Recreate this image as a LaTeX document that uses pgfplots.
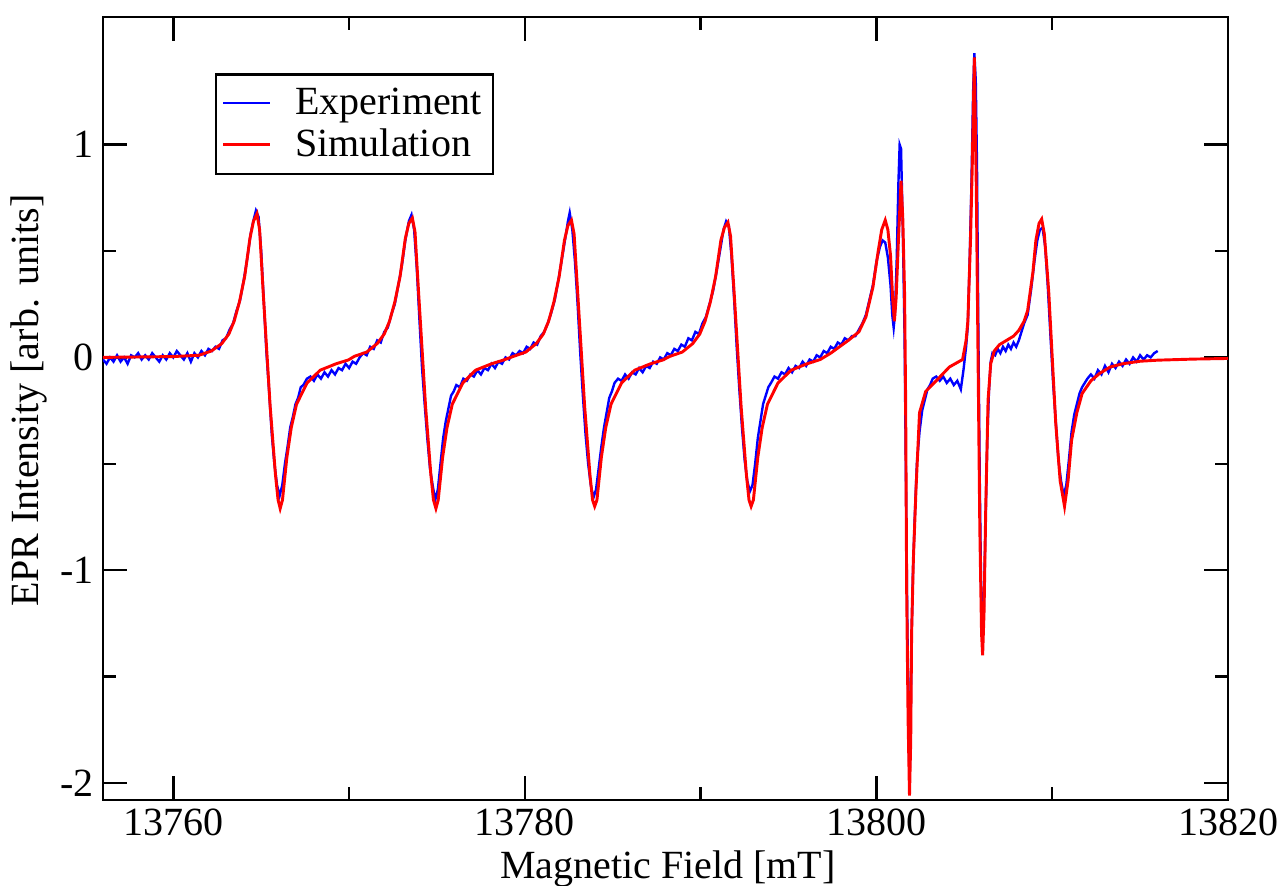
\documentclass[border=0pt]{standalone}
\usepackage{fontspec}
\setmainfont{Liberation Serif}
\usepackage{pgfplots}
\pgfplotsset{compat=1.18}

\newcommand{\lbl}{\fontsize{15}{18}\selectfont}

\begin{document}
\begin{tikzpicture}
\begin{axis}[
    name=ax,
    scale only axis,
    width=421.9pt, height=293.6pt,
    xmin=13756, xmax=13820,
    ymin=-2.08, ymax=1.6,
    scaled x ticks=false,
    xtick={13760,13780,13800,13820},
    xticklabels={13760,13780,13800,13820},
    ytick={-2,-1,0,1},
    yticklabels={-2,-1,0,1},
    minor x tick num=1,
    minor y tick num=1,
    tick align=inside,
    tick pos=both,
    major tick length=9pt,
    minor tick length=4.9pt,
    every tick/.style={black, line width=0.9pt},
    axis line style={line width=0.9pt},
    tick label style={font=\lbl},
    label style={font=\lbl},
    xlabel={Magnetic Field [mT]},
    ylabel={EPR Intensity [arb. units]},
    xlabel style={at={(axis description cs:0.502,-0.1009)}, anchor=base},
    ylabel style={at={(axis description cs:-0.0658,0.51)}, anchor=center},
    legend style={at={(axis description cs:0.0996,0.928)}, anchor=north west,
        draw=black, line width=0.9pt, font=\lbl,
        inner xsep=2pt, inner ysep=3pt, row sep=0pt,
        nodes={inner xsep=2pt},
        /tikz/every odd column/.style={column sep=7pt},
        cells={anchor=west}},
    legend image code/.code={\draw[#1] (0pt,0pt) -- (17.6pt,0pt);},
]
% Experiment
\addplot[color=blue, line width=0.9pt] coordinates {
(13756.0,-0.01)(13756.2,-0.03)(13756.4,0.00)(13756.6,-0.02)(13756.8,0.01)(13757.0,-0.02)
(13757.2,0.00)(13757.4,-0.03)(13757.6,0.01)(13757.8,0.00)(13758.0,0.02)(13758.2,-0.01)
(13758.4,0.01)(13758.6,-0.01)(13758.8,0.02)(13759.0,0.00)(13759.2,-0.02)(13759.4,0.01)
(13759.6,-0.01)(13759.8,0.02)(13760.0,0.00)(13760.2,0.03)(13760.4,0.01)(13760.6,-0.01)
(13760.8,0.02)(13761.0,-0.02)(13761.2,0.02)(13761.4,0.00)(13761.6,0.03)(13761.8,0.01)
(13762.0,0.04)(13762.2,0.03)(13762.4,0.05)(13762.6,0.04)(13762.8,0.08)(13763.0,0.09)
(13763.2,0.13)(13763.4,0.16)(13763.6,0.22)(13763.8,0.27)(13764.0,0.36)(13764.2,0.46)
(13764.4,0.58)(13764.55,0.64)(13764.7,0.69)(13764.85,0.66)(13765.0,0.50)(13765.15,0.26)
(13765.3,0.02)(13765.45,-0.16)(13765.6,-0.36)(13765.75,-0.50)(13765.9,-0.60)(13766.05,-0.65)
(13766.2,-0.60)(13766.35,-0.50)(13766.5,-0.42)(13766.65,-0.33)(13766.8,-0.28)(13766.95,-0.22)
(13767.1,-0.19)(13767.25,-0.14)(13767.4,-0.13)(13767.6,-0.10)(13767.8,-0.09)(13768.0,-0.11)
(13768.2,-0.08)(13768.4,-0.10)(13768.6,-0.07)(13768.8,-0.09)(13769.0,-0.06)(13769.2,-0.08)
(13769.4,-0.05)(13769.6,-0.06)(13769.8,-0.03)(13770.0,-0.05)(13770.2,-0.02)(13770.4,-0.03)
(13770.6,0.00)(13770.8,0.02)(13771.0,0.01)(13771.2,0.05)(13771.4,0.04)(13771.6,0.08)
(13771.8,0.07)(13772.0,0.12)(13772.2,0.14)(13772.4,0.20)(13772.6,0.25)(13772.8,0.34)
(13773.0,0.43)(13773.2,0.55)(13773.4,0.64)(13773.55,0.67)(13773.7,0.60)(13773.85,0.42)
(13774.0,0.18)(13774.15,-0.05)(13774.3,-0.22)(13774.45,-0.38)(13774.6,-0.52)(13774.75,-0.60)
(13774.9,-0.67)(13775.05,-0.62)(13775.2,-0.50)(13775.35,-0.38)(13775.5,-0.30)(13775.65,-0.24)
(13775.8,-0.18)(13775.95,-0.16)(13776.1,-0.13)(13776.3,-0.14)(13776.5,-0.10)(13776.7,-0.11)
(13776.9,-0.08)(13777.1,-0.09)(13777.3,-0.06)(13777.5,-0.08)(13777.7,-0.05)(13777.9,-0.06)
(13778.1,-0.03)(13778.3,-0.05)(13778.5,-0.02)(13778.7,-0.03)(13778.9,0.00)(13779.1,-0.01)
(13779.3,0.02)(13779.5,0.01)(13779.7,0.03)(13779.9,0.02)(13780.1,0.05)(13780.3,0.04)
(13780.5,0.07)(13780.7,0.06)(13780.9,0.10)(13781.1,0.12)(13781.3,0.16)(13781.5,0.21)
(13781.7,0.27)(13781.9,0.36)(13782.1,0.46)(13782.3,0.56)(13782.45,0.64)(13782.55,0.68)
(13782.7,0.60)(13782.85,0.45)(13783.0,0.25)(13783.15,0.02)(13783.3,-0.18)(13783.45,-0.36)
(13783.6,-0.50)(13783.75,-0.60)(13783.9,-0.66)(13784.05,-0.62)(13784.2,-0.52)(13784.35,-0.42)
(13784.5,-0.33)(13784.65,-0.26)(13784.8,-0.19)(13784.95,-0.16)(13785.1,-0.12)(13785.3,-0.10)
(13785.5,-0.11)(13785.7,-0.08)(13785.9,-0.10)(13786.1,-0.07)(13786.3,-0.08)(13786.5,-0.05)
(13786.7,-0.07)(13786.9,-0.04)(13787.1,-0.05)(13787.3,-0.02)(13787.5,-0.03)(13787.7,0.00)
(13787.9,-0.01)(13788.1,0.02)(13788.3,0.01)(13788.5,0.04)(13788.7,0.03)(13788.9,0.06)
(13789.1,0.05)(13789.3,0.09)(13789.5,0.08)(13789.7,0.12)(13789.9,0.11)(13790.1,0.16)
(13790.3,0.19)(13790.5,0.25)(13790.7,0.31)(13790.9,0.40)(13791.1,0.50)(13791.3,0.60)
(13791.45,0.64)(13791.6,0.62)(13791.75,0.48)(13791.9,0.28)(13792.05,0.05)(13792.2,-0.15)
(13792.35,-0.33)(13792.5,-0.48)(13792.65,-0.58)(13792.8,-0.63)(13792.95,-0.60)(13793.1,-0.50)
(13793.25,-0.38)(13793.4,-0.30)(13793.55,-0.22)(13793.7,-0.18)(13793.85,-0.14)(13794.0,-0.12)
(13794.2,-0.09)(13794.4,-0.10)(13794.6,-0.07)(13794.8,-0.08)(13795.0,-0.05)(13795.2,-0.07)
(13795.4,-0.04)(13795.6,-0.05)(13795.8,-0.02)(13796.0,-0.04)(13796.2,-0.01)(13796.4,-0.02)
(13796.6,0.01)(13796.8,0.00)(13797.0,0.03)(13797.2,0.02)(13797.4,0.05)(13797.6,0.04)
(13797.8,0.07)(13798.0,0.06)(13798.2,0.09)(13798.4,0.08)(13798.6,0.10)(13798.8,0.10)
(13799.0,0.13)(13799.2,0.16)(13799.4,0.20)(13799.6,0.27)(13799.8,0.34)(13800.0,0.45)
(13800.2,0.52)(13800.35,0.55)(13800.5,0.54)(13800.65,0.47)(13800.8,0.34)(13800.9,0.20)
(13800.98,0.14)(13801.05,0.20)(13801.15,0.45)(13801.25,0.82)(13801.32,1.00)(13801.4,0.98)
(13801.5,0.60)(13801.6,0.10)(13801.68,-0.60)(13801.75,-1.20)(13801.82,-1.65)(13801.88,-2.00)
(13801.94,-1.75)(13802.0,-1.30)(13802.08,-1.00)(13802.18,-0.75)(13802.3,-0.50)(13802.45,-0.35)
(13802.6,-0.25)(13802.75,-0.20)(13802.9,-0.15)(13803.05,-0.13)(13803.2,-0.10)(13803.4,-0.09)
(13803.6,-0.11)(13803.8,-0.09)(13804.0,-0.12)(13804.2,-0.10)(13804.4,-0.13)(13804.6,-0.11)
(13804.8,-0.15)(13804.95,-0.06)(13805.1,0.05)(13805.2,0.15)(13805.3,0.45)(13805.4,0.80)
(13805.5,1.25)(13805.57,1.43)(13805.65,1.30)(13805.72,0.90)(13805.8,0.10)(13805.88,-0.60)
(13805.95,-1.05)(13806.02,-1.30)(13806.1,-1.20)(13806.2,-0.80)(13806.3,-0.40)(13806.4,-0.16)
(13806.5,-0.02)(13806.6,0.02)(13806.75,0.01)(13806.9,0.04)(13807.05,0.02)(13807.2,0.05)
(13807.35,0.03)(13807.5,0.06)(13807.65,0.04)(13807.8,0.07)(13807.95,0.05)(13808.1,0.08)
(13808.25,0.12)(13808.4,0.16)(13808.6,0.20)(13808.8,0.32)(13809.0,0.46)(13809.15,0.55)
(13809.3,0.60)(13809.45,0.61)(13809.6,0.52)(13809.75,0.33)(13809.9,0.10)(13810.05,-0.12)
(13810.2,-0.30)(13810.35,-0.48)(13810.5,-0.58)(13810.65,-0.65)(13810.8,-0.60)(13810.95,-0.48)
(13811.1,-0.35)(13811.25,-0.27)(13811.4,-0.22)(13811.55,-0.17)(13811.7,-0.14)(13811.85,-0.12)
(13812.0,-0.10)(13812.2,-0.08)(13812.4,-0.10)(13812.6,-0.06)(13812.8,-0.08)(13813.0,-0.04)
(13813.2,-0.07)(13813.4,-0.03)(13813.6,-0.05)(13813.8,-0.02)(13814.0,-0.04)(13814.2,-0.01)
(13814.4,-0.03)(13814.6,0.00)(13814.8,-0.02)(13815.0,0.01)(13815.2,-0.01)(13815.4,0.01)
(13815.6,0.00)(13815.8,0.02)(13816.0,0.03)
};
\addlegendentry{Experiment}

% Simulation
\addplot[color=red, line width=1.1pt] coordinates {
(13756.0,0.000)(13758.0,0.002)(13760.0,0.004)(13761.46,0.010)(13762.16,0.030)(13762.76,0.065)
(13763.16,0.11)(13763.46,0.17)(13763.76,0.26)(13764.06,0.38)(13764.36,0.56)(13764.56,0.64)
(13764.76,0.675)(13764.91,0.60)(13765.11,0.31)(13765.31,0.04)(13765.51,-0.23)(13765.81,-0.55)
(13765.96,-0.67)(13766.08,-0.71)(13766.21,-0.67)(13766.46,-0.47)(13766.71,-0.33)(13767.01,-0.22)
(13767.61,-0.12)(13768.36,-0.06)(13769.26,-0.03)(13769.96,-0.012)
(13770.30,0.005)(13771.00,0.025)(13771.60,0.065)(13772.00,0.11)(13772.30,0.17)(13772.60,0.26)
(13772.90,0.38)(13773.20,0.56)(13773.40,0.63)(13773.60,0.655)(13773.75,0.59)(13773.95,0.31)
(13774.15,0.04)(13774.35,-0.23)(13774.65,-0.55)(13774.80,-0.67)(13774.94,-0.71)(13775.07,-0.67)
(13775.32,-0.47)(13775.57,-0.33)(13775.87,-0.22)(13776.47,-0.12)(13777.20,-0.06)(13778.10,-0.03)
(13778.80,-0.012)
(13779.35,0.005)(13780.05,0.025)(13780.65,0.065)(13781.05,0.11)(13781.35,0.17)(13781.65,0.26)
(13781.95,0.38)(13782.25,0.55)(13782.45,0.62)(13782.65,0.645)(13782.80,0.58)(13783.00,0.31)
(13783.20,0.04)(13783.40,-0.23)(13783.70,-0.55)(13783.85,-0.67)(13783.97,-0.70)(13784.10,-0.67)
(13784.35,-0.47)(13784.60,-0.33)(13784.90,-0.22)(13785.50,-0.12)(13786.25,-0.06)(13787.15,-0.03)
(13787.85,-0.012)
(13788.25,0.005)(13788.95,0.025)(13789.55,0.065)(13789.95,0.11)(13790.25,0.17)(13790.55,0.26)
(13790.85,0.38)(13791.15,0.55)(13791.35,0.61)(13791.55,0.635)(13791.70,0.57)(13791.90,0.31)
(13792.10,0.04)(13792.30,-0.23)(13792.60,-0.55)(13792.75,-0.67)(13792.87,-0.70)(13793.00,-0.67)
(13793.25,-0.47)(13793.50,-0.33)(13793.80,-0.22)(13794.40,-0.12)(13795.15,-0.06)(13796.05,-0.03)
(13796.80,-0.01)
(13797.4,0.02)(13797.9,0.05)(13798.4,0.08)(13799.0,0.12)(13799.4,0.19)(13799.8,0.33)
(13800.1,0.50)(13800.3,0.60)(13800.5,0.645)(13800.65,0.60)(13800.8,0.48)(13800.92,0.28)
(13801.02,0.17)(13801.12,0.28)(13801.25,0.55)(13801.4,0.83)(13801.5,0.65)(13801.6,0.30)
(13801.66,-0.2)(13801.72,-1.1)(13801.8,-1.7)(13801.88,-2.06)(13801.95,-1.8)(13802.0,-1.3)
(13802.1,-0.95)(13802.25,-0.62)(13802.45,-0.26)(13802.8,-0.16)(13803.4,-0.11)(13804.15,-0.045)
(13804.9,-0.01)(13805.1,0.08)(13805.2,0.17)(13805.35,0.55)(13805.45,0.90)(13805.57,1.41)
(13805.68,0.8)(13805.78,0.0)(13805.88,-0.8)(13805.98,-1.3)(13806.04,-1.40)(13806.12,-1.2)
(13806.22,-0.7)(13806.35,-0.2)(13806.5,-0.03)(13806.7,0.03)(13807.0,0.06)(13807.4,0.08)
(13807.8,0.10)(13808.1,0.127)(13808.4,0.17)(13808.6,0.22)(13808.9,0.40)(13809.07,0.55)
(13809.25,0.63)(13809.4,0.65)(13809.55,0.58)(13809.7,0.42)(13809.8,0.31)(13810.0,0.00)
(13810.2,-0.31)(13810.45,-0.58)(13810.7,-0.70)(13810.9,-0.58)(13811.1,-0.39)(13811.4,-0.26)
(13811.7,-0.17)(13812.2,-0.11)(13812.7,-0.075)(13813.3,-0.045)(13814.0,-0.03)(13815.0,-0.018)
(13816.0,-0.013)(13818.0,-0.008)(13820.0,-0.005)
};
\addlegendentry{Simulation}
\end{axis}
\pgfresetboundingbox
\path[use as bounding box] ([xshift=-38.625pt,yshift=-32.25pt]ax.south west)
    rectangle ([xshift=20.25pt,yshift=6.375pt]ax.north east);
\end{tikzpicture}
\end{document}
